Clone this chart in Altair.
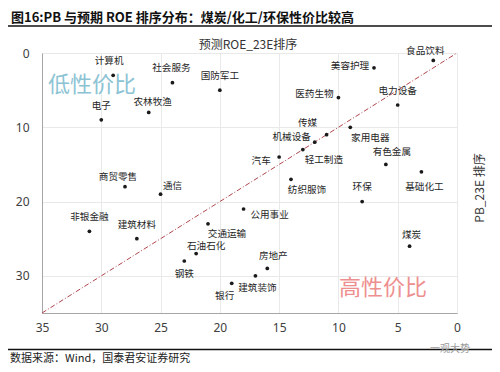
import altair as alt
import pandas as pd

# ---- data ----
industries = ["计算机", "社会服务", "国防军工", "电子", "农林牧渔",
              "食品饮料", "美容护理", "医药生物", "电力设备", "家用电器",
              "传媒", "机械设备", "轻工制造", "汽车", "有色金属",
              "基础化工", "纺织服饰", "环保", "公用事业", "商贸零售",
              "通信", "非银金融", "建筑材料", "交通运输", "石油石化",
              "钢铁", "银行", "建筑装饰", "房地产", "煤炭"]
roe_rank = [29, 24, 20, 30, 26,
            2, 7, 10, 5, 9,
            11, 12, 13, 15, 6,
            3, 14, 8, 18, 28,
            25, 31, 27, 21, 22,
            23, 19, 17, 16, 4]
pb_rank = [3, 4, 5, 9, 8,
           1, 2, 6, 7, 10,
           11, 12, 13, 14, 15,
           16, 17, 20, 21, 18,
           19, 24, 25, 23, 27,
           28, 31, 30, 29, 26]

axis_ticks = [0, 5, 10, 15, 20, 25, 30, 35]

# label placement (pixel offsets of label centre from its point) - layout only
label_dx = [-4, -1, 0, 0, 4,
            -8, -24, -24, 0, 20,
            -19, -23, 21, -18, 6,
            3, 16, 0, 26, -7,
            12, 0, 0, 19, 10,
            0, -7, 2, 6, 2]
label_dy = [-14, -15, -14, -13.5, -10,
            -9, -2, -4, -14, 11,
            -11.5, -5, 10, 4, -12,
            15, 11, -15, 6, -10,
            -8, -14, -14, 10, -8,
            13, 13, 12, -12, -11]

W, H = 415, 260
DOM = 35
PX_X = W / DOM
PX_Y = H / DOM

df = pd.DataFrame({"name": industries, "roe": roe_rank, "pb": pb_rank,
                   "dx": label_dx, "dy": label_dy})
# x scale is reversed: +dx pixels means smaller value
df["lx"] = df["roe"] - df["dx"] / PX_X
df["ly"] = df["pb"] + df["dy"] / PX_Y

FONT = "Noto Sans CJK SC"

xscale = alt.Scale(domain=[0, DOM], reverse=True, nice=False, zero=True)
yscale = alt.Scale(domain=[0, DOM], reverse=True, nice=False, zero=True)

base = alt.Chart(df)

points = base.mark_circle(size=14, color="#1a1a1a", opacity=1).encode(
    x=alt.X("roe:Q", scale=xscale,
            axis=alt.Axis(values=axis_ticks, title=None, ticks=False, labelPadding=9,
                          labelFontSize=12, labelColor="#404040", labelFont="Noto Sans",
                          grid=True, gridColor="#e9e9e9", domainColor="#a6a6a6",
                          labelFlush=False)),
    y=alt.Y("pb:Q", scale=yscale,
            axis=alt.Axis(values=axis_ticks, title=None, ticks=False, labelPadding=13,
                          labelFontSize=12, labelColor="#404040", labelFont="Noto Sans",
                          grid=True, gridColor="#e9e9e9", domainColor="#a6a6a6",
                          labelFlush=False)),
)

labels = base.mark_text(font=FONT, fontSize=9.6, color="#262626",
                        align="center", baseline="middle").encode(
    x=alt.X("lx:Q", scale=xscale),
    y=alt.Y("ly:Q", scale=yscale),
    text="name:N",
)

diag_df = pd.DataFrame({"roe": [0, DOM], "pb": [0, DOM]})
diag = alt.Chart(diag_df).mark_line(color="#b0464c", strokeWidth=1,
                                    strokeDash=[5, 2, 1, 2]).encode(
    x=alt.X("roe:Q", scale=xscale),
    y=alt.Y("pb:Q", scale=yscale),
)


def deco_text(txt, x, y, **kw):
    return alt.Chart(pd.DataFrame({"t": [txt]})).mark_text(**kw).encode(
        x=alt.value(x), y=alt.value(y), text="t:N")


def deco_rule(x1, x2, y, **kw):
    return alt.Chart(pd.DataFrame({"a": [0]})).mark_rule(**kw).encode(
        x=alt.value(x1), x2=alt.value(x2), y=alt.value(y))


header = deco_text("图16:PB 与预期 ROE 排序分布：煤炭/化工/环保性价比较高", -31, -35.5,
                   font=FONT, fontSize=13, fontWeight="bold", color="#111111",
                   align="left", baseline="middle")
header_rule = deco_rule(-34, 450, -27, color="#111111", strokeWidth=1.5)
top_title = deco_text("预测ROE_23E排序", 206, -8, font=FONT, fontSize=12,
                      color="#333333", align="center", baseline="middle")
right_title = deco_text("PB_23E 排序", 438, 135, font=FONT, fontSize=12, angle=270,
                        color="#333333", align="center", baseline="middle")
low_txt = deco_text("低性价比", 50, 32, font=FONT, fontSize=22, color="#8cc3d4",
                    align="center", baseline="middle")
high_txt = deco_text("高性价比", 341, 235, font=FONT, fontSize=22, color="#ee8f8f",
                     align="center", baseline="middle")
footer_rule = deco_rule(-34, 450, 296.5, color="#111111", strokeWidth=1.5)
footer = deco_text("数据来源：Wind，国泰君安证券研究", -32, 306, font=FONT, fontSize=11,
                   color="#222222", align="left", baseline="middle")
watermark = deco_text("一观大势", 408, 296, font=FONT, fontSize=10, color="#9a9a9a",
                      align="center", baseline="middle")

chart = alt.layer(
    diag, points, labels, low_txt, high_txt, header, header_rule, top_title,
    right_title, footer_rule, footer, watermark
).properties(
    width=W, height=H, autosize="none",
    padding={"left": 34, "top": 45, "right": 35, "bottom": 51},
).configure_view(stroke="#b3b3b3", strokeWidth=1).configure(background="white")

chart.save("out.html", embed_options={"renderer": "svg", "actions": False})
